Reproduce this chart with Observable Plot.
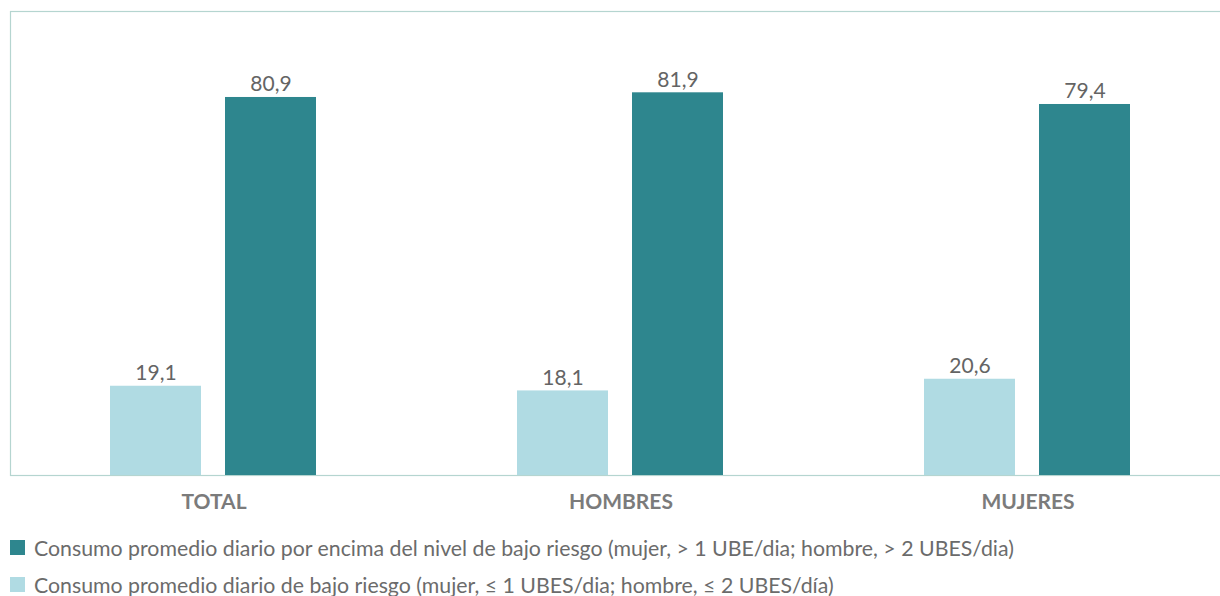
<!DOCTYPE html>
<html>
<head>
<meta charset="utf-8">
<script src="https://cdn.jsdelivr.net/npm/d3@7"></script>
<script src="https://cdn.jsdelivr.net/npm/@observablehq/plot@0.6"></script>
<style>
  html, body { margin: 0; padding: 0; background: #fff; overflow: hidden; }
  body { font-family: Lato, "Open Sans", sans-serif; width: 1220px; height: 596px; position: relative; }
  #chart { width: 1220px; overflow: hidden; }
  #chart svg { display: block; }
  #legend { margin-top: 9px; }
  .item { display: flex; align-items: center; height: 37px; padding-left: 10px; font-size: 21.3px; color: #6b6b6b; white-space: nowrap; }
  .sw { width: 15px; height: 15px; margin-right: 9px; flex: none; }
</style>
</head>
<body>
<div id="chart"></div>
<div id="legend"></div>
<script>
const groups = ["TOTAL", "HOMBRES", "MUJERES"];
const seriesNames = [
  "Consumo promedio diario de bajo riesgo (mujer, ≤ 1 UBES/dia; hombre, ≤ 2 UBES/día)",
  "Consumo promedio diario por encima del nivel de bajo riesgo (mujer, > 1 UBE/dia; hombre, > 2 UBES/dia)"
];
const seriesKeys = ["bajo", "encima"];
const lowRisk = [19.1, 18.1, 20.6];
const aboveRisk = [80.9, 81.9, 79.4];
const colors = ["#b0dbe3", "#2e868e"];
const legendOrder = [1, 0];

const data = [];
groups.forEach((g, i) => {
  data.push({group: g, serie: seriesKeys[0], value: lowRisk[i]});
  data.push({group: g, serie: seriesKeys[1], value: aboveRisk[i]});
});
const fmt = v => v.toFixed(1).replace(".", ",");

const plot = Plot.plot({
  width: 1231,
  height: 520,
  marginLeft: 10,
  marginRight: 0,
  marginTop: 11,
  marginBottom: 45,
  style: {fontFamily: "Lato, 'Open Sans', sans-serif", background: "#fff", maxWidth: "none"},
  fx: {domain: groups, padding: 0, label: null},
  x: {domain: seriesKeys, paddingInner: 0.207, paddingOuter: 0.858, axis: null},
  y: {domain: [0, 99.3], axis: null},
  color: {domain: seriesKeys, range: colors},
  marks: [
    Plot.frame({facet: "super", stroke: "#b5d5d0", strokeWidth: 1.2}),
    Plot.barY(data, {fx: "group", x: "serie", y: "value", fill: "serie"}),
    Plot.text(data, {fx: "group", x: "serie", y: "value", text: d => fmt(d.value), lineAnchor: "bottom", dy: -6, fontSize: 21, fill: "#646464"}),
    Plot.axisFx({anchor: "bottom", tickSize: 0, tickPadding: 19, fontSize: 21, fontWeight: "bold", fill: "#7b7b7b", label: null})
  ]
});
document.getElementById("chart").appendChild(plot);

const legend = document.getElementById("legend");
legendOrder.forEach(i => {
  const row = document.createElement("div");
  row.className = "item";
  const sw = document.createElement("span");
  sw.className = "sw";
  sw.style.background = colors[i];
  const t = document.createElement("span");
  t.textContent = seriesNames[i];
  row.appendChild(sw);
  row.appendChild(t);
  legend.appendChild(row);
});
</script>
</body>
</html>
